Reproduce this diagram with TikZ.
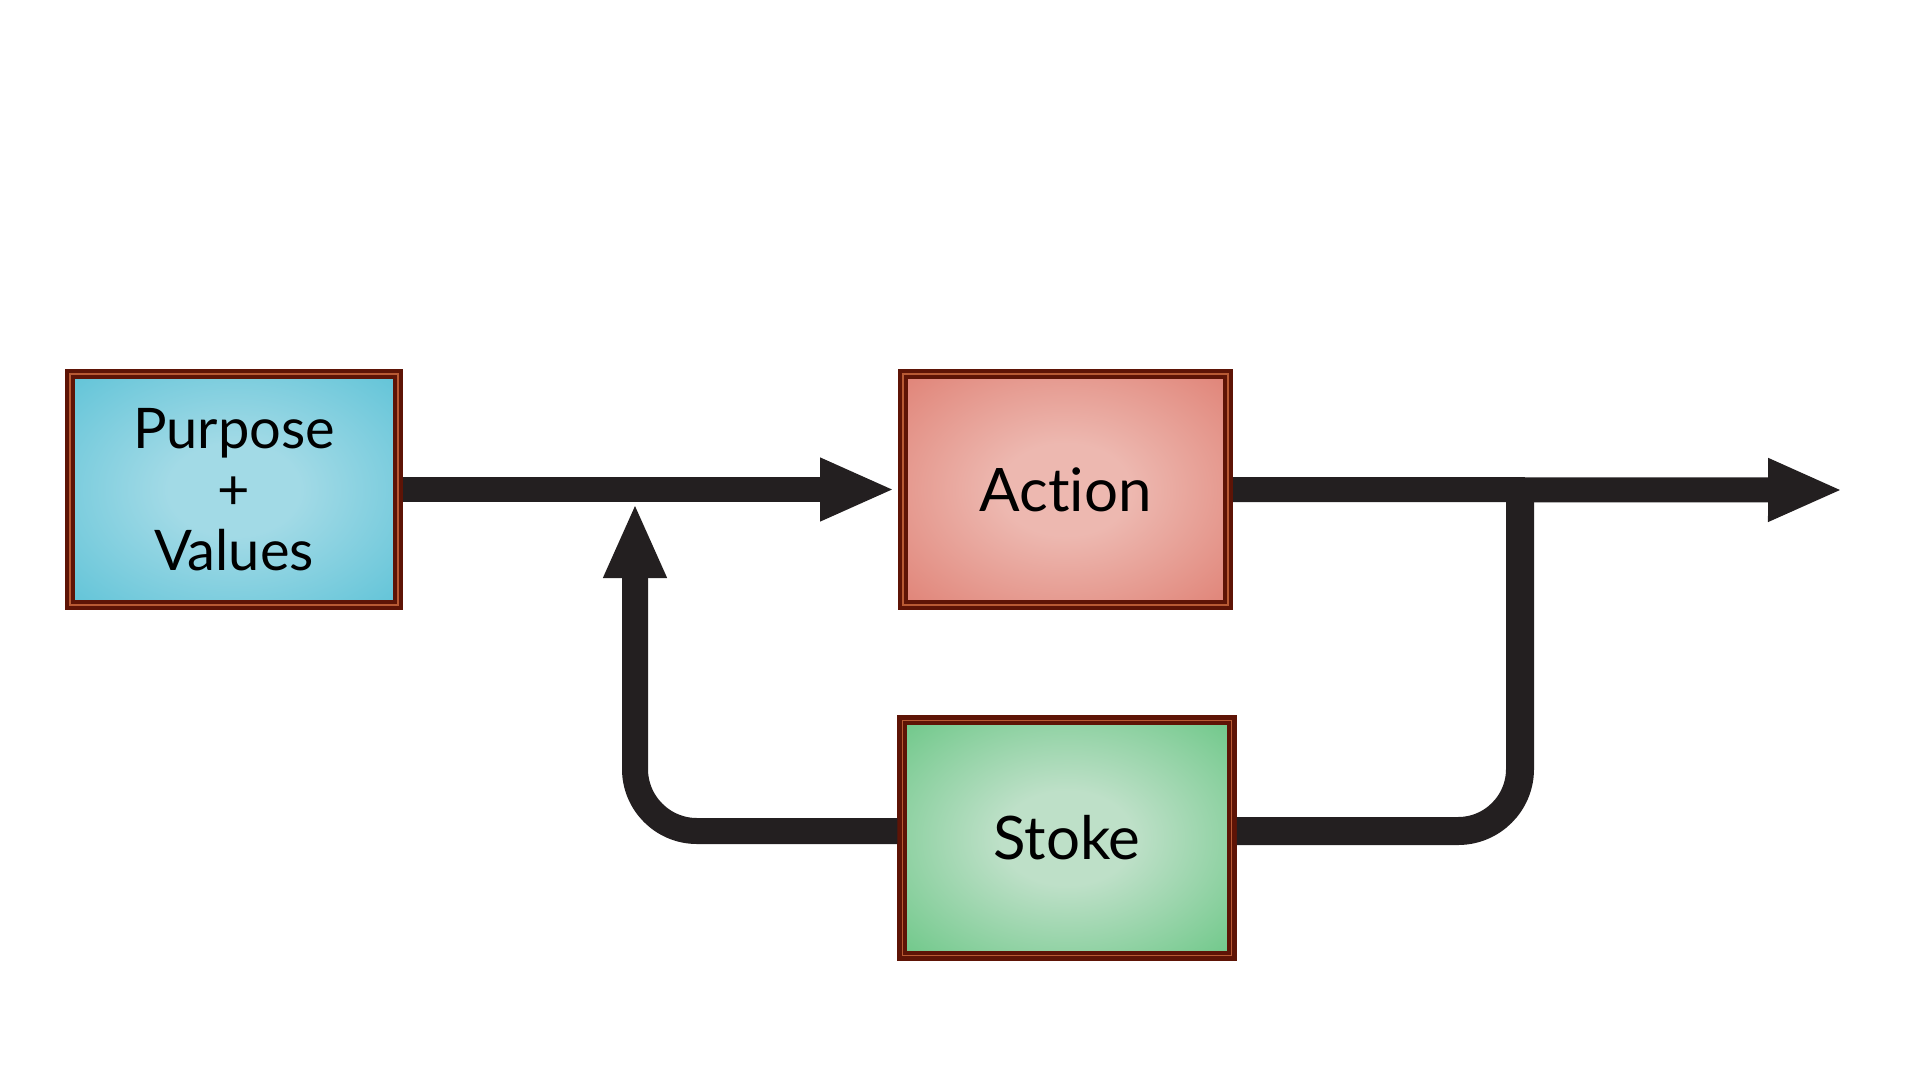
\documentclass[tikz,border=0pt]{standalone}
\usepackage{fontspec}
\setmainfont{Lato}[Ligatures={NoCommon,NoRare}]
\usetikzlibrary{arrows.meta}
\definecolor{framedark}{HTML}{5E1406}
\definecolor{framelight}{HTML}{B85A34}
\definecolor{flowcol}{HTML}{231F20}
\definecolor{bluein}{HTML}{A2DAE6}
\definecolor{bluemid}{HTML}{62C4D8}
\definecolor{blueout}{HTML}{34B0C8}
\definecolor{redin}{HTML}{EDB8B0}
\definecolor{redmid}{HTML}{E08478}
\definecolor{redout}{HTML}{C8564A}
\definecolor{greenin}{HTML}{BEE0C8}
\definecolor{greenmid}{HTML}{70C88A}
\definecolor{greenout}{HTML}{36A85A}
\pgfdeclareradialshading{purposeshade}{\pgfpoint{0bp}{0bp}}{color(0bp)=(bluein); color(10bp)=(bluein); color(35bp)=(bluemid); color(58bp)=(blueout); color(70bp)=(blueout)}
\pgfdeclareradialshading{actionshade}{\pgfpoint{0bp}{0bp}}{color(0bp)=(redin); color(10bp)=(redin); color(35bp)=(redmid); color(58bp)=(redout); color(70bp)=(redout)}
\pgfdeclareradialshading{stokeshade}{\pgfpoint{0bp}{0bp}}{color(0bp)=(greenin); color(10bp)=(greenin); color(35bp)=(greenmid); color(58bp)=(greenout); color(70bp)=(greenout)}
\tikzset{
  card/.style={draw=framedark, double=framelight, double distance=1.2pt,
    line width=4.6pt, outer sep=5pt, inner sep=0pt, align=center,
    minimum width=328pt, minimum height=231pt},
  line/.style={draw=flowcol, line width=25pt},
  flow/.style={line, -{Triangle[length=75pt,width=58pt]}},
}
\begin{document}
\begin{tikzpicture}[x=1pt,y=-1pt]
    \useasboundingbox (0,0) rectangle (1920,1080);
    % the three cards
    \node[card, shading=purposeshade, font=\fontsize{56}{61}\selectfont] (pv) at (234,489.5) {Purpose\\+\\Values};
    \node[card, shading=actionshade, font=\fontsize{60}{66}\selectfont, minimum width=325pt] (act) at (1065.5,489.5) {Action};
    \node[card, shading=stokeshade, font=\fontsize{60}{66}\selectfont, minimum width=329.5pt, minimum height=235.5pt] (stk) at (1067,838) {Stoke};
    % free ends
    \coordinate (tip) at (1843,490);
    \coordinate (tap) at (1520,490);
    \coordinate (merge) at (635,503);
    % forward path
    \draw[flow] (pv.east) -- ([xshift=-3pt]act.west);
    \draw[flow] (act.east) -- (tip);
    % feedback loop
    \draw[line, line width=28pt, rounded corners=62pt] (tap) |- ([yshift=7pt]stk.east);
    \draw[flow, line width=26pt, rounded corners=62pt] ([yshift=7pt]stk.west) -| (merge);
\end{tikzpicture}
\end{document}
